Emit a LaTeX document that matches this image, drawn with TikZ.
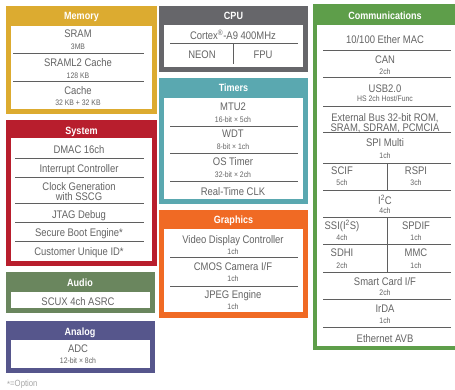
\documentclass[tikz,border=0pt]{standalone}
\usepackage{fontspec}
\setmainfont{Liberation Sans}[FakeStretch=0.86]
\definecolor{cgold}{RGB}{220,171,48}
\definecolor{cgray}{RGB}{102,102,106}
\definecolor{cteal}{RGB}{90,168,176}
\definecolor{cred}{RGB}{184,30,45}
\definecolor{corange}{RGB}{240,106,36}
\definecolor{cgreen}{RGB}{94,158,74}
\definecolor{caudio}{RGB}{106,134,94}
\definecolor{cpurple}{RGB}{86,86,140}
\definecolor{txt}{RGB}{100,100,100}
\definecolor{sepc}{RGB}{95,95,95}
\definecolor{opt}{RGB}{165,165,165}
\begin{document}
\begin{tikzpicture}[x=1pt,y=-1pt,
  hdr/.style={font=\bfseries\fontsize{10.5}{11}\selectfont, text=white, inner sep=0pt, anchor=base, yshift=-3.7pt},
  itm/.style={font=\fontsize{11}{12}\selectfont, text=txt, inner sep=0pt, anchor=base, yshift=-4pt},
  sub/.style={font=\fontsize{8}{9}\selectfont, text=txt, inner sep=0pt, anchor=base, yshift=-2.9pt},
  sep/.style={draw=sepc, line width=0.8pt}]
\useasboundingbox (0,0) rectangle (455,389);

% ---------- Memory ----------
\fill[cgold] (6,6) rectangle (157,114);
\fill[white] (11,26) rectangle (152,109);
\node[hdr] (mh) at (81.5,16) {Memory};
\node[itm] (m1) at (78,33) {SRAM};
\node[sub] (m1s) at (78,47) {3MB};
\draw[sep] (13,53) -- (144,53);
\node[itm] (m2) at (78,62) {SRAML2 Cache};
\node[sub] (m2s) at (78,76) {128 KB};
\draw[sep] (13,81) -- (144,81);
\node[itm] (m3) at (78,90) {Cache};
\node[sub] (m3s) at (78,103) {32 KB + 32 KB};

% ---------- CPU ----------
\fill[cgray] (159,6) rectangle (308,72);
\fill[white] (164,25) rectangle (303,67);
\node[hdr] (ch) at (233.5,16) {CPU};
\node[itm] (c1) at (233,35) {Cortex\textsuperscript{\textregistered}-A9 400MHz};
\draw[sep] (170,43) -- (298,43);
\draw[sep] (233,43) -- (233,64);
\node[itm] (c2) at (202,54) {NEON};
\node[itm] (c3) at (263,54) {FPU};

% ---------- Timers ----------
\fill[cteal] (159,78) rectangle (308,204);
\fill[white] (164,98) rectangle (303,199);
\node[hdr] (th) at (233.5,88) {Timers};
\node[itm] (t1) at (233,106) {MTU2};
\node[sub] (t1s) at (233,120) {16-bit × 5ch};
\draw[sep] (170,126) -- (298,126);
\node[itm] (t2) at (233,133) {WDT};
\node[sub] (t2s) at (233,147) {8-bit × 1ch};
\draw[sep] (170,153) -- (298,153);
\node[itm] (t3) at (233,161) {OS Timer};
\node[sub] (t3s) at (233,175) {32-bit × 2ch};
\draw[sep] (170,181) -- (298,181);
\node[itm] (t4) at (233,191) {Real-Time CLK};

% ---------- Graphics ----------
\fill[corange] (159,210) rectangle (308,318);
\fill[white] (164,229) rectangle (303,312);
\node[hdr] (gh) at (233.5,220) {Graphics};
\node[itm] (g1) at (233,239) {Video Display Controller};
\node[sub] (g1s) at (233,252) {1ch};
\draw[sep] (170,257) -- (298,257);
\node[itm] (g2) at (233,266) {CMOS Camera I/F};
\node[sub] (g2s) at (233,279) {1ch};
\draw[sep] (170,286) -- (298,286);
\node[itm] (g3) at (233,294) {JPEG Engine};
\node[sub] (g3s) at (233,307) {1ch};

% ---------- Communications ----------
\fill[cgreen] (313,4) rectangle (460,350);
\fill[white] (317,25) rectangle (460,346);
\node[hdr] (kh) at (385,16) {Communications};
\node[itm] (k1) at (385,39) {10/100 Ether MAC};
\draw[sep] (323,50) -- (451,50);
\node[itm] (k2) at (385,59) {CAN};
\node[sub] (k2s) at (385,72) {2ch};
\draw[sep] (323,77) -- (451,77);
\node[itm] (k3) at (385,88) {USB2.0};
\node[sub] (k3s) at (385,99) {HS 2ch Host/Func};
\draw[sep] (323,106) -- (451,106);
\node[itm] (k4) at (385,117) {External Bus 32-bit ROM,};
\node[itm] (k4b) at (385,127) {SRAM, SDRAM, PCMCIA};
\draw[sep] (323,132) -- (451,132);
\node[itm] (k5) at (385,142) {SPI Multi};
\node[sub] (k5s) at (385,156) {1ch};
\draw[sep] (323,163) -- (451,163);
\draw[sep] (387,163) -- (387,190);
\node[itm] (k6) at (342,170) {SCIF};
\node[sub] (k6s) at (342,183) {5ch};
\node[itm] (k7) at (416,170) {RSPI};
\node[sub] (k7s) at (416,183) {3ch};
\draw[sep] (323,190) -- (451,190);
\node[itm] (k8) at (385,200) {I\textsuperscript{2}C};
\node[sub] (k8s) at (385,211) {4ch};
\draw[sep] (323,217) -- (451,217);
\draw[sep] (387,217) -- (387,272);
\node[itm] (k9) at (342,225) {SSI(I\textsuperscript{2}S)};
\node[sub] (k9s) at (342,238) {4ch};
\node[itm] (k10) at (416,225) {SPDIF};
\node[sub] (k10s) at (416,238) {1ch};
\draw[sep] (323,244) -- (451,244);
\node[itm] (k11) at (342,252) {SDHI};
\node[sub] (k11s) at (342,266) {2ch};
\node[itm] (k12) at (416,252) {MMC};
\node[sub] (k12s) at (416,266) {1ch};
\draw[sep] (323,272) -- (451,272);
\node[itm] (k13) at (385,281) {Smart Card I/F};
\node[sub] (k13s) at (385,293) {2ch};
\draw[sep] (323,299) -- (451,299);
\node[itm] (k14) at (385,308) {IrDA};
\node[sub] (k14s) at (385,321) {1ch};
\draw[sep] (323,327) -- (451,327);
\node[itm] (k15) at (385,338) {Ethernet AVB};

% ---------- System ----------
\fill[cred] (6,120) rectangle (157,266);
\fill[white] (11,138) rectangle (152,261);
\node[hdr] (sh) at (81.5,131) {System};
\node[itm] (s1) at (79,149) {DMAC 16ch};
\draw[sep] (15,158) -- (144,158);
\node[itm] (s2) at (79,168) {Interrupt Controller};
\draw[sep] (15,177) -- (144,177);
\node[itm] (s3) at (79,186) {Clock Generation};
\node[itm] (s3b) at (79,196) {with SSCG};
\draw[sep] (15,203) -- (144,203);
\node[itm] (s4) at (79,214) {JTAG Debug};
\draw[sep] (15,222) -- (144,222);
\node[itm] (s5) at (79,232) {Secure Boot Engine*};
\draw[sep] (15,241) -- (144,241);
\node[itm] (s6) at (79,251) {Customer Unique ID*};

% ---------- Audio ----------
\fill[caudio] (6,272) rectangle (155,313);
\fill[white] (11,292) rectangle (150,308);
\node[hdr] (ah) at (80,283) {Audio};
\node[itm] (a1) at (78,301) {SCUX 4ch ASRC};

% ---------- Analog ----------
\fill[cpurple] (6,321) rectangle (155,373);
\fill[white] (11,340) rectangle (150,368);
\node[hdr] (nh) at (80,332) {Analog};
\node[itm] (n1) at (78,348) {ADC};
\node[sub] (n1s) at (78,361) {12-bit × 8ch};

% ---------- Note ----------
\node[font=\fontsize{9}{10}\selectfont, text=opt, inner sep=0pt, anchor=base west] (note) at (7,386.5) {\raisebox{-0.25ex}{*}=Option};
\end{tikzpicture}
\end{document}
